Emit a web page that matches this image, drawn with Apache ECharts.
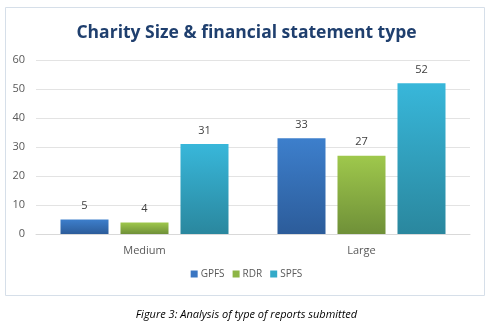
<!DOCTYPE html>
<html>
<head>
<meta charset="utf-8">
<script src="https://cdn.jsdelivr.net/npm/echarts@6/dist/echarts.min.js"></script>
<style>
  html, body { margin: 0; padding: 0; background: #ffffff; }
  #chart { width: 493px; height: 334px; }
</style>
</head>
<body>
<div id="chart"></div>
<script>
// Report counts by charity size and financial statement type
const categories = ['Medium', 'Large'];
const gpfs = [5, 33];
const rdr = [4, 27];
const spfs = [31, 52];
const yTicks = [0, 10, 20, 30, 40, 50, 60];

const font = '"Open Sans", "Liberation Sans", sans-serif';

function grad(top, bottom) {
  return new echarts.graphic.LinearGradient(0, 0, 0, 1, [
    { offset: 0, color: top },
    { offset: 1, color: bottom }
  ]);
}

function barSeries(name, data, top, bottom) {
  return {
    name: name,
    type: 'bar',
    data: data,
    barWidth: 48,
    barGap: '25%',
    itemStyle: { color: grad(top, bottom) },
    label: {
      show: true,
      position: 'top',
      distance: 8,
      color: '#404040',
      fontSize: 11,
      fontFamily: font
    },
    emphasis: { disabled: true }
  };
}

const chart = echarts.init(document.getElementById('chart'), null, { renderer: 'canvas' });

chart.setOption({
  animation: false,
  backgroundColor: '#ffffff',
  color: ['#3a76c2', '#8db545', '#33aac8'],
  graphic: [
    {
      type: 'rect',
      shape: { x: 5.5, y: 7.5, width: 479, height: 288 },
      style: { fill: 'none', stroke: '#d6dfe9', lineWidth: 1 },
      z: -1
    },
    {
      type: 'text',
      left: 'center',
      top: 309,
      style: {
        text: 'Figure 3: Analysis of type of reports submitted',
        fontFamily: font,
        fontStyle: 'italic',
        fontSize: 11,
        fill: '#000000'
      }
    }
  ],
  title: {
    text: 'Charity Size & financial statement type',
    left: 'center',
    top: 19,
    textStyle: {
      fontFamily: font,
      fontWeight: 'bold',
      fontSize: 17.5,
      color: '#1f3f6e'
    }
  },
  legend: {
    bottom: 50,
    left: 'center',
    itemWidth: 7,
    itemHeight: 7,
    itemGap: 8,
    icon: 'rect',
    textStyle: { color: '#595959', fontSize: 10, fontFamily: font, padding: [0, 0, 0, -2] },
    data: [
      { name: 'GPFS', itemStyle: { color: '#3a76c2' } },
      { name: 'RDR', itemStyle: { color: '#8db545' } },
      { name: 'SPFS', itemStyle: { color: '#33aac8' } }
    ]
  },
  grid: { left: 36, right: 23, top: 60, bottom: 100, containLabel: false },
  xAxis: {
    type: 'category',
    data: categories,
    axisLine: { show: true, lineStyle: { color: '#d9d9d9' } },
    axisTick: { show: false },
    axisLabel: { color: '#595959', fontSize: 11, fontFamily: font, margin: 11 }
  },
  yAxis: {
    type: 'value',
    min: yTicks[0],
    max: yTicks[yTicks.length - 1],
    interval: 10,
    axisLine: { show: false },
    axisTick: { show: false },
    axisLabel: { color: '#595959', fontSize: 11, fontFamily: font, margin: 11 },
    splitLine: { lineStyle: { color: '#e3e3e3' } }
  },
  series: [
    barSeries('GPFS', gpfs, '#3d7fcc', '#2c5c9a'),
    barSeries('RDR', rdr, '#9fc84c', '#6f9038'),
    barSeries('SPFS', spfs, '#38b7da', '#2a879e')
  ]
});
</script>
</body>
</html>
